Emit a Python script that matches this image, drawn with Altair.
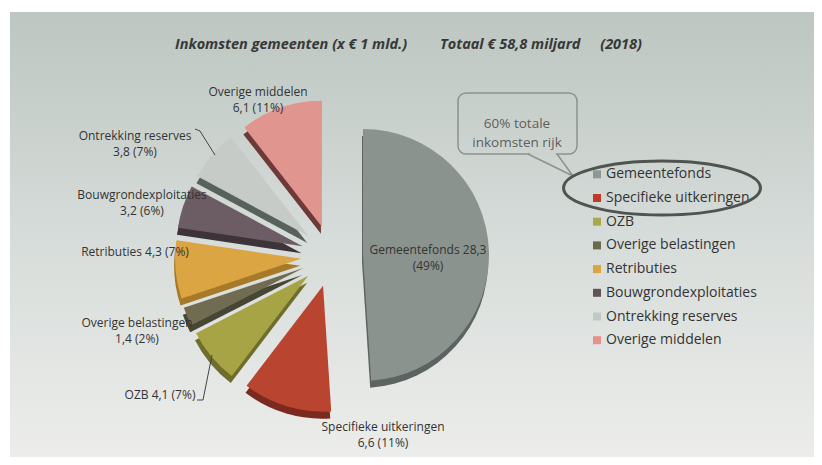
import altair as alt
import pandas as pd

# ---------------- data ----------------
categories = ["Gemeentefonds", "Specifieke uitkeringen", "OZB", "Overige belastingen",
              "Retributies", "Bouwgrondexploitaties", "Ontrekking reserves", "Overige middelen"]
values = [28.3, 6.6, 4.1, 1.4, 4.3, 3.2, 3.8, 6.1]
slice_labels = ["Gemeentefonds 28,3\n(49%)", "Specifieke uitkeringen\n6,6 (11%)", "OZB 4,1 (7%)",
                "Overige belastingen\n1,4 (2%)", "Retributies 4,3 (7%)", "Bouwgrondexploitaties\n3,2 (6%)",
                "Ontrekking reserves\n3,8 (7%)", "Overige middelen\n6,1 (11%)"]
title_left = "Inkomsten  gemeenten  (x € 1 mld.)"
title_mid = "Totaal € 58,8 miljard"
title_right = "(2018)"
callout_lines = ["60% totale", "inkomsten rijk"]

# ---------------- styles ----------------
slice_colors = ["#8b938e", "#b9442f", "#a6a444", "#6f6c52", "#dca543", "#6c5d65", "#c7cbc8", "#e1958f"]
side_colors = ["#5d6360", "#7a2a1e", "#6f6d2c", "#474534", "#a77a2a", "#3d3338", "#58625d", "#6e3a37"]
legend_colors = ["#8f9792", "#c0392b", "#a9a94b", "#6b6b4b", "#d9a53f", "#5f5557", "#c4c8c5", "#e8908e"]
FONT = "Open Sans"
TXT = "#333333"

# ---------------- layout ----------------
W, H = 806, 449
CX, CY = 324, 248
R = 126
EXPLODE = 31
DEPTH_DX, DEPTH_DY = -1, 7
label_xy = [(420, 242), (375, 419), (152, 387), (129, 315), (127, 244), (134, 187), (127, 128), (250, 84)]
LEG_X, LEG_Y0, LEG_STEP = 589, 166.3, 23.7

pie_df = pd.DataFrame({
    "category": categories, "value": values, "order": list(range(len(categories))),
    "fill": slice_colors, "side": side_colors,
})

pie_base = alt.Chart(pie_df).transform_window(
    cum="sum(value)", sort=[alt.SortField("order")], frame=[None, 0]
).transform_joinaggregate(
    total="sum(value)"
).transform_calculate(
    t0="2*PI*(datum.cum-datum.value)/datum.total",
    t1="2*PI*datum.cum/datum.total",
).transform_calculate(
    mid="(datum.t0+datum.t1)/2"
).transform_calculate(
    px=f"{CX}+{EXPLODE}*sin(datum.mid)",
    py=f"{CY}-{EXPLODE}*cos(datum.mid)",
).transform_calculate(
    sx=f"datum.px+{DEPTH_DX}",
    sy=f"datum.py+{DEPTH_DY}",
)

sides = pie_base.mark_arc(radius=R).encode(
    x=alt.X("sx:Q", scale=None, axis=None),
    y=alt.Y("sy:Q", scale=None, axis=None),
    theta=alt.Theta("t0:Q", scale=None, stack=None),
    theta2=alt.Theta2("t1:Q"),
    color=alt.Color("side:N", scale=None),
)
slices = pie_base.mark_arc(radius=R).encode(
    x=alt.X("px:Q", scale=None, axis=None),
    y=alt.Y("py:Q", scale=None, axis=None),
    theta=alt.Theta("t0:Q", scale=None, stack=None),
    theta2=alt.Theta2("t1:Q"),
    color=alt.Color("fill:N", scale=None),
)

# background gradient (slide)
bg = alt.Chart(pd.DataFrame({"a": [0]})).mark_rect(
    color=alt.Gradient(gradient="linear", x1=0, y1=0, x2=0, y2=1,
                       stops=[alt.GradientStop(color="#bdc6c1", offset=0),
                              alt.GradientStop(color="#d6dcd9", offset=0.5),
                              alt.GradientStop(color="#ecedeb", offset=1)])
).encode(x=alt.value(2), x2=alt.value(W), y=alt.value(4), y2=alt.value(H))

# slice labels
lab_df = pd.DataFrame({"text": slice_labels,
                       "lx": [p[0] for p in label_xy], "ly": [p[1] for p in label_xy]})
labels = alt.Chart(lab_df).mark_text(
    font=FONT, fontSize=12, color=TXT, lineBreak="\n", lineHeight=16, align="center", baseline="middle"
).encode(x=alt.X("lx:Q", scale=None, axis=None), y=alt.Y("ly:Q", scale=None, axis=None), text="text:N")

# leader lines
lead_df = pd.DataFrame({
    "g": ["a", "a", "a", "b", "b", "b"], "o": [0, 1, 2, 0, 1, 2],
    "x": [187, 192, 207, 189, 195, 204], "y": [121, 123, 147, 392, 392, 347],
})
leaders = alt.Chart(lead_df).mark_line(color="#444444", strokeWidth=1).encode(
    x=alt.X("x:Q", scale=None, axis=None), y=alt.Y("y:Q", scale=None, axis=None),
    detail="g:N", order="o:Q")

# legend
leg_df = pd.DataFrame({"category": categories, "c": legend_colors, "i": list(range(len(categories)))})
leg_base = alt.Chart(leg_df).transform_calculate(ly=f"{LEG_Y0}+datum.i*{LEG_STEP}")
leg_sym = leg_base.mark_square(size=64, opacity=1).encode(
    x=alt.value(LEG_X), y=alt.Y("ly:Q", scale=None, axis=None), color=alt.Color("c:N", scale=None))
leg_txt = leg_base.mark_text(font=FONT, fontSize=14, color=TXT, align="left", baseline="middle").encode(
    x=alt.value(LEG_X + 9), y=alt.Y("ly:Q", scale=None, axis=None), text="category:N")

# callout box
one = pd.DataFrame({"a": [0]})
box = alt.Chart(one).mark_rect(fill=None, stroke="#8c928e", strokeWidth=1.5, cornerRadius=8).encode(
    x=alt.value(450), x2=alt.value(569), y=alt.value(85), y2=alt.value(146))
cover = alt.Chart(one).mark_rule(color="#cbd1ce", strokeWidth=3).encode(
    x=alt.value(522), x2=alt.value(548), y=alt.value(146), y2=alt.value(146))
tail_df = pd.DataFrame({"o": [0, 1, 2], "x": [520, 565, 549], "y": [146, 168, 146]})
tail = alt.Chart(tail_df).mark_line(color="#8c928e", strokeWidth=1.5).encode(
    x=alt.X("x:Q", scale=None, axis=None), y=alt.Y("y:Q", scale=None, axis=None), order="o:Q")
call_txt = alt.Chart(pd.DataFrame({"t": ["\n".join(callout_lines)]})).mark_text(
    font=FONT, fontSize=13.5, color="#5e5e5e", lineBreak="\n", lineHeight=19, align="center", baseline="middle"
).encode(x=alt.value(509), y=alt.value(116), text="t:N")

# ellipse around first two legend entries
ELL = ("M-1,0C-1,-0.1513,-0.5523,-0.274,0,-0.274C0.5523,-0.274,1,-0.1513,1,0"
       "C1,0.1513,0.5523,0.274,0,0.274C-0.5523,0.274,-1,0.1513,-1,0Z")
ellipse = alt.Chart(one).mark_point(shape=ELL, size=197 * 197, filled=False, stroke="#50544f",
                                    strokeWidth=3, opacity=1).encode(x=alt.value(654), y=alt.value(180))

# title
t_style = dict(font=FONT, fontSize=14.5, fontStyle="italic", fontWeight="bold", color="#383838", baseline="middle")
t1 = alt.Chart(one).mark_text(align="left", **t_style).encode(x=alt.value(167), y=alt.value(37), text=alt.value(title_left))
t2 = alt.Chart(one).mark_text(align="left", **t_style).encode(x=alt.value(432), y=alt.value(37), text=alt.value(title_mid))
t3 = alt.Chart(one).mark_text(align="right", **t_style).encode(x=alt.value(634), y=alt.value(37), text=alt.value(title_right))

chart = alt.layer(
    bg, sides, slices, leaders, labels, leg_sym, leg_txt, box, cover, tail, call_txt, ellipse, t1, t2, t3
).properties(
    width=W, height=H, padding=0, autosize=alt.AutoSizeParams(type="none"), background="white"
).configure_view(stroke=None)

chart.save("out.html", embed_options={"renderer": "svg", "actions": False})
